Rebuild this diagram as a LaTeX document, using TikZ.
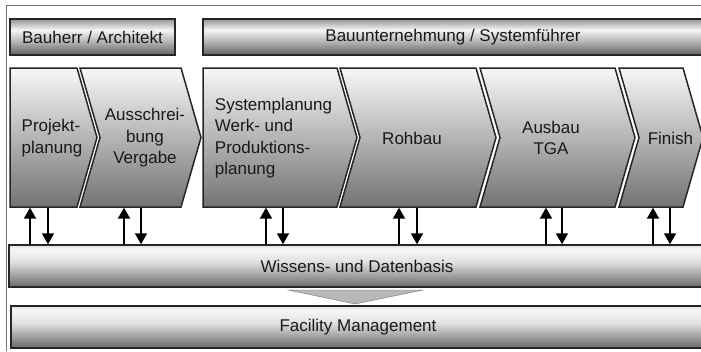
\documentclass[tikz,border=0pt]{standalone}
\usepackage{fontspec}
\setmainfont{Liberation Sans}
\usetikzlibrary{arrows.meta}
\pgfdeclareverticalshading{barshade}{100bp}{color(0bp)=(black!62); color(25bp)=(black!62); color(42bp)=(black!32); color(60bp)=(black!4); color(75bp)=(black!42); color(100bp)=(black!42)}
\pgfdeclareverticalshading{baseshade}{100bp}{color(0bp)=(black!58); color(25bp)=(black!58); color(55bp)=(black!12); color(70bp)=(black!3); color(75bp)=(black!12); color(100bp)=(black!12)}

\begin{document}
\begin{tikzpicture}[x=1pt,y=-1pt,font=\fontsize{17}{21.5}\selectfont,text=black!90,
  box/.style={draw=black!85,line width=1.5pt,inner sep=0pt,shade,shading=barshade,minimum height=36},
  bar/.style={draw=black!85,line width=1.5pt,inner sep=0pt,shade,shading=baseshade,minimum height=42},
  chev/.style={draw=black!85,line width=1.5pt,line join=miter,top color=black!3,bottom color=black!55},
  lab/.style={inner sep=0pt,minimum height=139},
  arr/.style={line width=2pt,-{Triangle[width=12pt,length=11pt]}}]
\useasboundingbox (0,0) rectangle (701,351);
\draw[black!55,line width=1pt] (6,351) -- (6,5) -- (701,5);
% roles
\node[box,minimum width=165] (bh) at (92.5,37) {Bauherr / Architekt};
\node[box,minimum width=500] (bu) at (453,37) {Bauunternehmung / Systemführer};
% process chain
\foreach \l/\r/\n in {10/77/0,80/181/20,203/337/0,340/476/20,480/615/20,619/683/20}{
  \path[chev] (\l,68) -- (\r,68) -- (\r+20,137.5) -- (\r,207) -- (\l,207) -- (\l+\n,137.5) -- cycle;}
\node[lab,align=left] (pp) at (52,138) {Projekt-\\planung};
\node[lab,align=center] (av) at (145,138) {Ausschrei-\\bung\\Vergabe};
\node[lab,align=left] (sp) at (273.5,138) {Systemplanung\\Werk- und\\Produktions-\\planung};
\node[lab] (rb) at (412,138) {Rohbau};
\node[lab,align=center] (ab) at (551,138) {Ausbau\\TGA};
\node[lab] (fi) at (670.5,138) {Finish};
% data base
\node[bar,minimum width=696] (wdb) at (357,266) {Wissens- und Datenbasis};
\node[bar,minimum width=694] (fm) at (358,327) {Facility Management};
\draw[black!55,fill=black!28] (288,290) -- (423,290) -- (355,304) -- cycle;
\foreach \n/\u/\d in {pp/30/48,av/124/141,sp/266/283,rb/399/417,ab/546/562,fi/653/670}{
  \draw[arr] (\u,0 |- wdb.north) -- (\u,0 |- \n.south);
  \draw[arr] (\d,0 |- \n.south) -- (\d,0 |- wdb.north);}
\end{tikzpicture}
\end{document}
